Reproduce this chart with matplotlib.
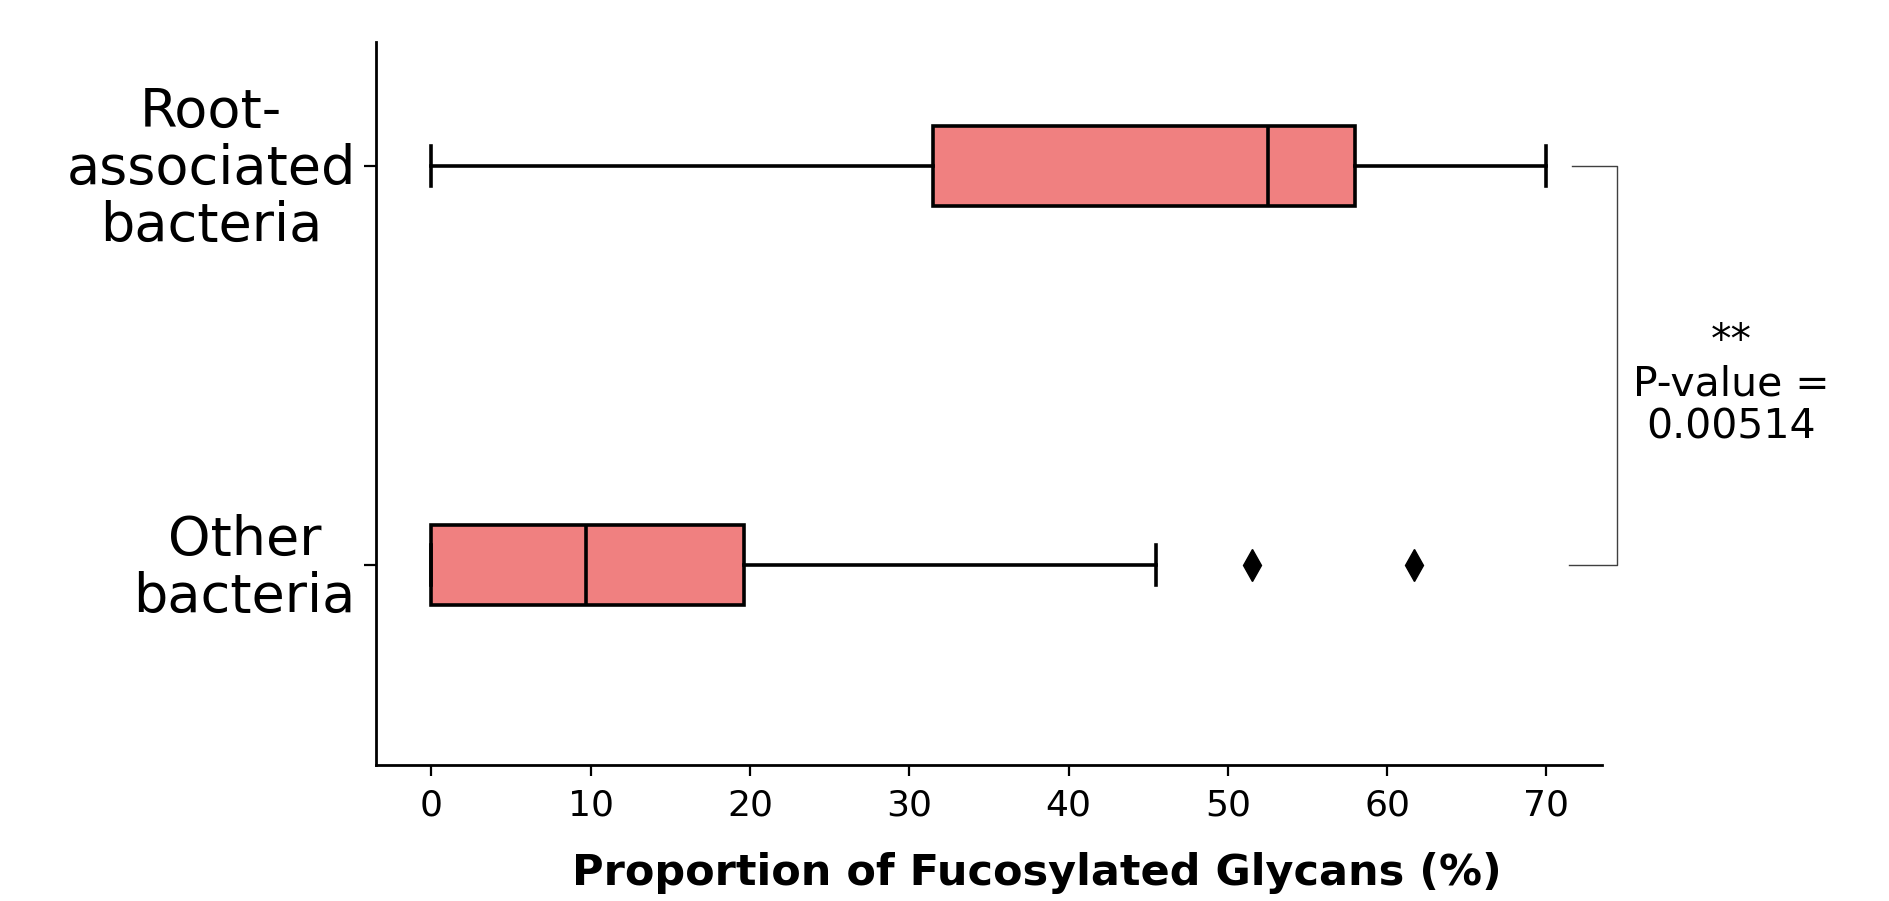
import matplotlib
matplotlib.use("Agg")
import matplotlib.pyplot as plt
from matplotlib.transforms import ScaledTranslation

categories = ["Root-\nassociated\nbacteria", "Other\nbacteria"]
whislo = [0.0, 0.0]
q1 = [31.5, 0.0]
med = [52.5, 9.7]
q3 = [58.0, 19.6]
whishi = [70.0, 45.5]
fliers = [[], [51.5, 61.7]]
xticks = [0, 10, 20, 30, 40, 50, 60, 70]
xlabel = "Proportion of Fucosylated Glycans (%)"
annot = "**\nP-value =\n0.00514"

DPI = 100
fig = plt.figure(figsize=(18.9, 9.01), dpi=DPI)
ax = fig.add_axes([375.7 / 1890, 136 / 901, 1226.5 / 1890, 723 / 901])

stats = []
for i in range(len(categories)):
    stats.append(dict(whislo=whislo[i], q1=q1[i], med=med[i], q3=q3[i],
                      whishi=whishi[i], fliers=fliers[i], label=categories[i]))

lw = 2.6
ax.bxp(stats, positions=range(len(categories)), vert=False, widths=0.2,
       patch_artist=True, capwidths=0.1, manage_ticks=False,
       boxprops=dict(facecolor="#F08080", edgecolor="black", linewidth=lw),
       medianprops=dict(color="black", linewidth=lw),
       whiskerprops=dict(color="black", linewidth=lw),
       capprops=dict(color="black", linewidth=lw),
       flierprops=dict(marker="d", markerfacecolor="black", markeredgecolor="black",
                       markersize=16, linestyle="none"))

ax.set_xlim(-3.5, 73.5)
ax.set_ylim(1.5, -0.31)
ax.set_xticks(xticks)
ax.set_xticklabels([str(t) for t in xticks], fontsize=26, family="DejaVu Sans")
ax.set_yticks(range(len(categories)))
ax.set_yticklabels(categories, fontsize=39, family="DejaVu Sans",
                   multialignment="center", linespacing=1.13)

ax.tick_params(axis="x", length=8, width=1.6, pad=9)
ax.tick_params(axis="y", length=8.6, width=1.6, pad=5.8)
for s in ["top", "right"]:
    ax.spines[s].set_visible(False)
for s in ["left", "bottom"]:
    ax.spines[s].set_linewidth(2.0)

# nudge the y tick labels up slightly
shift = ScaledTranslation(0, 5 / DPI, fig.dpi_scale_trans)
for lab in ax.get_yticklabels():
    lab.set_transform(lab.get_transform() + shift)

ax.set_xlabel(xlabel, fontsize=31, fontweight="bold", family="DejaVu Sans")
ax.xaxis.set_label_coords(0.539, -0.12)

# significance bracket
ax.plot([71.6, 74.4, 74.4, 71.4], [0, 0, 1, 1], color="0.25", linewidth=1.0,
        clip_on=False)
ax.text(81.6, 0.548, annot, ha="center", va="center", fontsize=29.5,
        family="DejaVu Sans", linespacing=1.1, clip_on=False)

fig.savefig("out.png", dpi=DPI, facecolor="white")
